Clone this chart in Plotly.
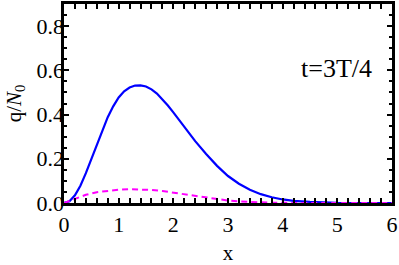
import plotly.graph_objects as go

# Blue solid curve
x_blue = [0, 0.1, 0.2, 0.3, 0.4, 0.5, 0.6, 0.7, 0.8, 0.9, 1.0, 1.1, 1.2, 1.3, 1.4, 1.5, 1.6, 1.7,
          1.8, 1.9, 2.0, 2.2, 2.4, 2.6, 2.8, 3.0, 3.2, 3.4, 3.6, 3.8, 4.0, 4.2, 4.5, 5.0, 5.5, 6.0]
y_blue = [0, 0.008, 0.035, 0.078, 0.135, 0.2, 0.265, 0.328, 0.388, 0.437, 0.477, 0.505, 0.522, 0.531,
          0.532, 0.527, 0.514, 0.495, 0.47, 0.441, 0.41, 0.345, 0.28, 0.222, 0.168, 0.122, 0.087,
          0.06, 0.04, 0.026, 0.016, 0.01, 0.005, 0.001, 0.0, 0.0]

# Magenta dashed curve
x_mag = [0, 0.2, 0.4, 0.6, 0.8, 1.0, 1.2, 1.4, 1.6, 1.8, 2.0, 2.2, 2.4, 2.6, 2.8, 3.0, 3.2, 3.4,
         3.8, 4.5, 6.0]
y_mag = [0, 0.02, 0.037, 0.049, 0.056, 0.06, 0.062, 0.062, 0.059, 0.054, 0.047, 0.04, 0.032, 0.024,
         0.017, 0.011, 0.007, 0.004, 0.001, 0.0, 0.0]

x_ticks = [0, 1, 2, 3, 4, 5, 6]
y_ticks = [0.0, 0.2, 0.4, 0.6, 0.8]

FONT = "Liberation Serif"

fig = go.Figure()
fig.add_trace(go.Scatter(x=x_mag, y=y_mag, mode="lines", yaxis="y2",
                         line=dict(color="#FF00FF", width=2, dash="6px,4px"),
                         hoverinfo="skip", showlegend=False))
fig.add_trace(go.Scatter(x=x_blue, y=y_blue, mode="lines",
                         line=dict(color="#0000FF", width=2.2),
                         hoverinfo="skip", showlegend=False))

fig.add_annotation(x=5.67, y=0.61, xref="x", yref="y", text="t=3T/4", showarrow=False,
                   xanchor="right", yanchor="middle", font=dict(family=FONT, size=26, color="black"))

axis_common = dict(showgrid=False, zeroline=False, showline=True, linecolor="black", linewidth=2.5,
                   mirror="allticks", ticks="inside", ticklen=5, tickwidth=1.5, tickcolor="black",
                   tickfont=dict(family=FONT, size=22, color="black"))

fig.update_xaxes(range=[0, 6], tickvals=x_ticks, ticktext=[str(v) for v in x_ticks],
                 minor=dict(dtick=0.2, ticklen=3, tickwidth=1.5, tickcolor="black", ticks="inside"),
                 title=dict(text="x", font=dict(family=FONT, size=21, color="black"), standoff=12),
                 **axis_common)
fig.update_yaxes(range=[0, 0.9], tickvals=y_ticks, showticklabels=False,
                 minor=dict(dtick=0.05, ticklen=3, tickwidth=1.5, tickcolor="black", ticks="inside"),
                 **axis_common)

fig.update_layout(
    width=399, height=265, margin=dict(l=64, r=7, t=1, b=62),
    paper_bgcolor="white", plot_bgcolor="white", showlegend=False,
    font=dict(family=FONT),
    yaxis2=dict(overlaying="y", anchor="free", position=0.0, side="left",
                range=[0, 0.9], tickvals=y_ticks, ticktext=["%.1f" % v for v in y_ticks],
                showline=False, showgrid=False, zeroline=False, ticks="",
                tickfont=dict(family=FONT, size=22, color="black"),
                title=dict(text="q/<i>N</i><sub>0</sub>", font=dict(family=FONT, size=21, color="black"),
                           standoff=8)),
)

fig.write_html("out.html", config={"displayModeBar": False},
               post_script="document.body.style.margin='0';document.body.style.padding='0';")
